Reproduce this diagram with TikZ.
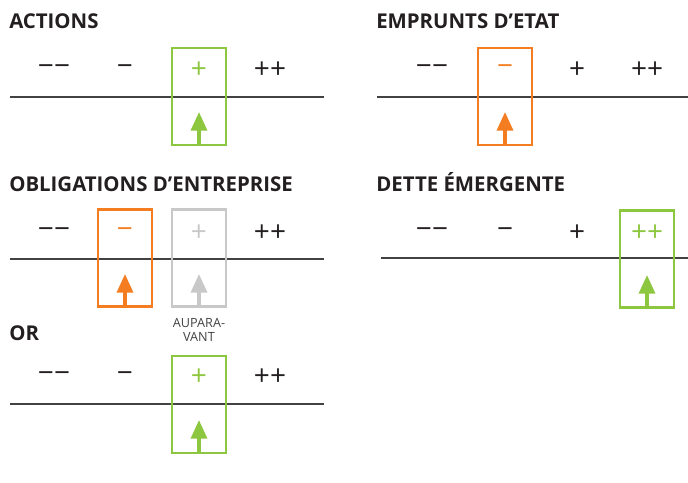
\documentclass[tikz,border=0pt]{standalone}
\usepackage{fontspec}
\setmainfont{Open Sans}
\usepackage{tikz}
\usetikzlibrary{arrows.meta}
\definecolor{upgreen}{RGB}{141,198,63}
\definecolor{uporange}{RGB}{243,125,32}
\definecolor{upgray}{RGB}{200,200,200}
\definecolor{ink}{RGB}{35,31,32}
\tikzset{
 title/.style={anchor=base west, inner sep=0, font=\bfseries\fontsize{15.3}{17}\selectfont, text=ink},
 grade/.style={inner sep=0, font=\fontsize{21}{22}\selectfont, text=ink},
 axis/.style={ink!85, line width=1pt},
 pick/.style={draw=#1, line width=1.9pt, minimum width=40.5pt, minimum height=73pt, inner sep=0},
 up/.style={#1, line width=2.6pt, -{Triangle[width=12pt,length=14pt]}}
}
\begin{document}
\begin{tikzpicture}[x=0.75pt,y=-0.75pt]
\useasboundingbox (0,0) rectangle (688,482);

% ACTIONS
\node[title] (ttlact) at (9,28) {ACTIONS};
\draw[axis] (10,97) coordinate (actL) -- (324,97) coordinate (actR);
\node[pick=upgreen] (actbox) at (199,96.5) {};
\foreach \g/\x/\c [count=\i] in {−−/54/ink, −/125/ink, +/199/upgreen, ++/270/ink}
 \node[grade, text=\c] (act\i) at (\x,70) {\g};
\coordinate (acttip) at (199,112);
\draw[up=upgreen] (actbox.south) -- (acttip);

% EMPRUNTS D'ETAT
\node[title] (ttlemp) at (376,28) {EMPRUNTS D’ETAT};
\draw[axis] (377,97) coordinate (empL) -- (688,97) coordinate (empR);
\node[pick=uporange] (empbox) at (505,96.5) {};
\foreach \g/\x/\c [count=\i] in {−−/432/ink, −/505/uporange, +/577/ink, ++/647/ink}
 \node[grade, text=\c] (emp\i) at (\x,70) {\g};
\coordinate (emptip) at (505,112);
\draw[up=uporange] (empbox.south) -- (emptip);

% OBLIGATIONS D'ENTREPRISE
\node[title] (ttlobl) at (9,191) {OBLIGATIONS D’ENTREPRISE};
\draw[axis] (10,259) coordinate (oblL) -- (324,259) coordinate (oblR);
\node[pick=uporange] (oblbox) at (125,258) {};
\node[pick=upgray] (oldbox) at (199,258) {};
\foreach \g/\x/\c [count=\i] in {−−/54/ink, −/125/uporange, +/199/upgray, ++/270/ink}
 \node[grade, text=\c] (obl\i) at (\x,233) {\g};
\coordinate (obltip) at (125,274);
\coordinate (oldtip) at (199,274);
\draw[up=uporange] (oblbox.south) -- (obltip);
\draw[up=upgray] (oldbox.south) -- (oldtip);
\node[align=center, inner sep=0, font=\fontsize{9.5}{11}\selectfont, text=ink!85] (oldlbl) at (199,330) {AUPARA-\\VANT};

% DETTE EMERGENTE
\node[title] (ttldet) at (376,191) {DETTE ÉMERGENTE};
\draw[axis] (381,258) coordinate (detL) -- (688,258) coordinate (detR);
\node[pick=upgreen] (detbox) at (647,259) {};
\foreach \g/\x/\c [count=\i] in {−−/432/ink, −/505/ink, +/577/ink, ++/647/upgreen}
 \node[grade, text=\c] (det\i) at (\x,233) {\g};
\coordinate (dettip) at (647,275);
\draw[up=upgreen] (detbox.south) -- (dettip);

% OR
\node[title] (ttlor) at (9,340) {OR};
\draw[axis] (10,404) coordinate (orL) -- (324,404) coordinate (orR);
\node[pick=upgreen] (orbox) at (199,404.5) {};
\foreach \g/\x/\c [count=\i] in {−−/54/ink, −/125/ink, +/199/upgreen, ++/270/ink}
 \node[grade, text=\c] (or\i) at (\x,377) {\g};
\coordinate (ortip) at (199,420);
\draw[up=upgreen] (orbox.south) -- (ortip);
\end{tikzpicture}
\end{document}
